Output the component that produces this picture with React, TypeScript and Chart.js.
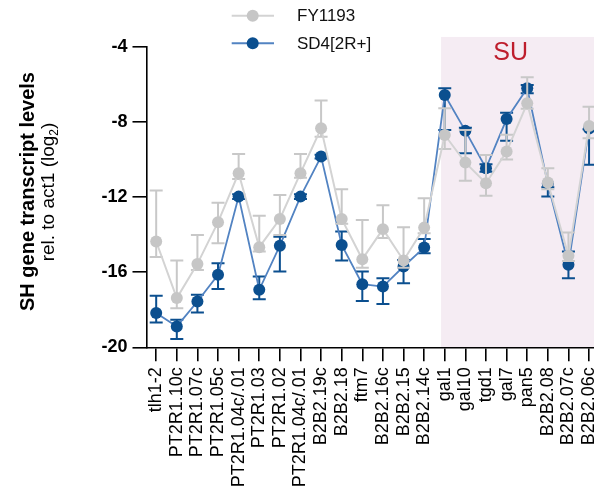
import React, { useEffect, useRef } from "react";
import { Chart, registerables } from "chart.js";

Chart.register(...registerables);

const categories = [
  "tlh1-2", "PT2R1.10c", "PT2R1.07c", "PT2R1.05c", "PT2R1.04c/.01", "PT2R1.03",
  "PT2R1.02", "PT2R1.04c/.01", "B2B2.19c", "B2B2.18", "ftm7", "B2B2.16c",
  "B2B2.15", "B2B2.14c", "gal1", "gal10", "tgd1", "gal7", "pan5", "B2B2.08",
  "B2B2.07c", "B2B2.06c",
];

const fyMean = [-14.37, -17.38, -15.56, -13.34, -10.73, -14.67, -13.17, -10.73, -8.34, -13.17, -15.31, -13.71, -15.38, -13.63, -8.7, -10.17, -11.27, -9.58, -7.01, -11.23, -15.13, -8.22];
const fyHigh = [-11.66, -15.38, -14.02, -12.3, -9.71, -13.0, -11.89, -9.71, -6.87, -11.59, -13.22, -12.44, -13.61, -12.07, -7.28, -8.43, -9.76, -8.68, -5.63, -10.47, -13.89, -7.19];
const fyLow = [-15.2, -17.92, -15.88, -14.46, -11.04, -14.9, -14.02, -10.98, -8.79, -13.43, -15.77, -14.18, -15.77, -13.93, -9.44, -11.14, -11.94, -10.0, -7.3, -11.59, -15.4, -8.87];

const sdMean = [-18.18, -18.89, -17.56, -16.14, -11.98, -16.94, -14.59, -11.98, -9.85, -14.55, -16.64, -16.77, -15.7, -14.69, -6.57, -8.48, -10.47, -7.85, -6.21, -11.3, -15.61, -8.35];
const sdHigh = [-17.26, -18.54, -17.2, -15.52, -11.85, -16.23, -14.11, -11.85, -9.75, -13.84, -15.97, -16.32, -15.35, -14.23, -6.21, -8.31, -10.26, -7.51, -6.04, -11.48, -14.9, -8.39];
const sdLow = [-18.68, -19.56, -18.15, -16.9, -12.1, -17.44, -15.97, -12.1, -9.95, -15.38, -17.53, -17.7, -16.59, -14.99, -8.43, -9.67, -10.65, -9.0, -6.48, -11.98, -16.32, -10.29];

const yTicks = [-20, -16, -12, -8, -4];
const seriesNames = ["FY1193", "SD4[2R+]"];
const regionLabel = "SU";
const regionStart = 13.82;

const GRAY_LINE = "#d3d3d3";
const GRAY_PT = "#c6c6c6";
const BLUE_LINE = "#5283c2";
const BLUE_PT = "#0b4f8f";
const FONT = "'Liberation Sans', Arial, sans-serif";

const errorBars: Record<number, { hi: number[]; lo: number[]; color: string }> = {
  0: { hi: fyHigh, lo: fyLow, color: "#c8c8c8" },
  1: { hi: sdHigh, lo: sdLow, color: BLUE_PT },
};

const errorBarPlugin = {
  id: "errorBars",
  beforeDatasetDraw(chart: any, args: any) {
    const eb = errorBars[args.index];
    if (!eb) return;
    const { ctx } = chart;
    const xs = chart.scales.x;
    const ys = chart.scales.y;
    ctx.save();
    ctx.strokeStyle = eb.color;
    ctx.lineWidth = 2;
    for (let i = 0; i < eb.hi.length; i++) {
      const x = xs.getPixelForValue(i);
      const y1 = ys.getPixelForValue(eb.hi[i]);
      const y2 = ys.getPixelForValue(eb.lo[i]);
      ctx.beginPath();
      ctx.moveTo(x, y1);
      ctx.lineTo(x, y2);
      ctx.moveTo(x - 6.5, y1);
      ctx.lineTo(x + 6.5, y1);
      ctx.moveTo(x - 6.5, y2);
      ctx.lineTo(x + 6.5, y2);
      ctx.stroke();
    }
    ctx.restore();
  },
};

const regionPlugin = {
  id: "region",
  beforeDraw(chart: any) {
    const { ctx, chartArea } = chart;
    const xs = chart.scales.x;
    const ys = chart.scales.y;
    const x0 = xs.getPixelForValue(regionStart);
    const top = ys.getPixelForValue(-3.48);
    ctx.save();
    ctx.fillStyle = "#f5ecf3";
    ctx.fillRect(x0, top, chart.width - x0, chartArea.bottom - top);
    ctx.fillStyle = "#be1e2d";
    ctx.font = `25px ${FONT}`;
    ctx.textAlign = "center";
    ctx.textBaseline = "middle";
    ctx.fillText(regionLabel, xs.getPixelForValue(17.2), ys.getPixelForValue(-4.34));
    ctx.restore();
  },
};

const decorPlugin = {
  id: "decor",
  afterDraw(chart: any) {
    const { ctx } = chart;
    ctx.save();
    const items = [
      { name: seriesNames[0], line: GRAY_LINE, pt: GRAY_PT, y: 15.7 },
      { name: seriesNames[1], line: BLUE_LINE, pt: BLUE_PT, y: 43.3 },
    ];
    for (const it of items) {
      ctx.strokeStyle = it.line;
      ctx.lineWidth = 2;
      ctx.beginPath();
      ctx.moveTo(231.7, it.y);
      ctx.lineTo(274, it.y);
      ctx.stroke();
      ctx.fillStyle = it.pt;
      ctx.beginPath();
      ctx.arc(252.7, it.y, 6, 0, Math.PI * 2);
      ctx.fill();
      ctx.fillStyle = "#111";
      ctx.font = `17px ${FONT}`;
      ctx.textAlign = "left";
      ctx.textBaseline = "middle";
      ctx.fillText(it.name, 297, it.y + 1);
    }
    ctx.restore();

    // y title
    ctx.save();
    ctx.fillStyle = "#000";
    ctx.translate(34, 191.5);
    ctx.rotate(-Math.PI / 2);
    ctx.textAlign = "center";
    ctx.textBaseline = "alphabetic";
    ctx.font = `bold 20px ${FONT}`;
    ctx.fillText("SH gene transcript levels", 0, 0);
    ctx.restore();

    ctx.save();
    ctx.translate(54, 192);
    ctx.rotate(-Math.PI / 2);
    ctx.fillStyle = "#000";
    ctx.textBaseline = "alphabetic";
    const main = "rel. to act1 (log";
    const sub = "2";
    const close = ")";
    const fMain = `19px ${FONT}`;
    const fSub = `12px ${FONT}`;
    ctx.font = fMain;
    const wMain = ctx.measureText(main).width;
    const wClose = ctx.measureText(close).width;
    ctx.font = fSub;
    const wSub = ctx.measureText(sub).width;
    const total = wMain + wSub + wClose;
    let x = -total / 2;
    ctx.textAlign = "left";
    ctx.font = fMain;
    ctx.fillText(main, x, 0);
    x += wMain;
    ctx.font = fSub;
    ctx.fillText(sub, x, 4);
    x += wSub;
    ctx.font = fMain;
    ctx.fillText(close, x, 0);
    ctx.restore();
  },
};

export default function App() {
  const ref = useRef<HTMLCanvasElement>(null);
  useEffect(() => {
    if (!ref.current) return;
    const chart = new Chart(ref.current, {
      type: "line",
      data: {
        datasets: [
          {
            label: seriesNames[0],
            data: fyMean.map((v, i) => ({ x: i, y: v })),
            borderColor: GRAY_LINE,
            borderWidth: 2,
            pointRadius: 6,
            pointBackgroundColor: GRAY_PT,
            pointBorderWidth: 0,
            tension: 0,
          },
          {
            label: seriesNames[1],
            data: sdMean.map((v, i) => ({ x: i, y: v })),
            borderColor: BLUE_LINE,
            borderWidth: 1.8,
            pointRadius: 6,
            pointBackgroundColor: BLUE_PT,
            pointBorderWidth: 0,
            tension: 0,
          },
        ],
      },
      options: {
        animation: false,
        responsive: false,
        devicePixelRatio: 1,
        layout: { autoPadding: false, padding: { top: 46.7, left: 0, right: 0, bottom: 0 } },
        plugins: { legend: { display: false }, tooltip: { enabled: false } },
        scales: {
          x: {
            type: "linear",
            min: -0.47,
            max: 21.24,
            afterBuildTicks: (s: any) => {
              s.ticks = categories.map((_, i) => ({ value: i }));
            },
            afterFit: (s: any) => {
              s.height = 495 - 347.3;
              s.paddingRight = 0;
              s.paddingLeft = 0;
            },
            ticks: {
              autoSkip: false,
              minRotation: 90,
              maxRotation: 90,
              padding: 6,
              color: "#000",
              font: { size: 18, family: FONT },
              callback: (v: any) => categories[v] ?? "",
            },
            grid: { drawOnChartArea: false, tickLength: 14, color: "#000", lineWidth: 1.6 },
            border: { color: "#000", width: 1.6 },
          },
          y: {
            min: -20,
            max: -4,
            afterBuildTicks: (s: any) => {
              s.ticks = yTicks.map((v) => ({ value: v }));
            },
            afterFit: (s: any) => {
              s.width = 146.5;
              s.paddingTop = 0;
              s.paddingBottom = 0;
            },
            ticks: {
              padding: 5,
              color: "#000",
              font: { size: 18, weight: "bold", family: FONT },
            },
            grid: { drawOnChartArea: false, tickLength: 14, color: "#000", lineWidth: 1.6 },
            border: { color: "#000", width: 1.6 },
          },
        },
      },
      plugins: [regionPlugin, errorBarPlugin, decorPlugin],
    });
    return () => chart.destroy();
  }, []);
  return (
    <div style={{ position: "fixed", left: 0, top: 0, width: 594, height: 495, background: "#fff" }}>
      <canvas ref={ref} width={594} height={495} style={{ display: "block" }} />
    </div>
  );
}
